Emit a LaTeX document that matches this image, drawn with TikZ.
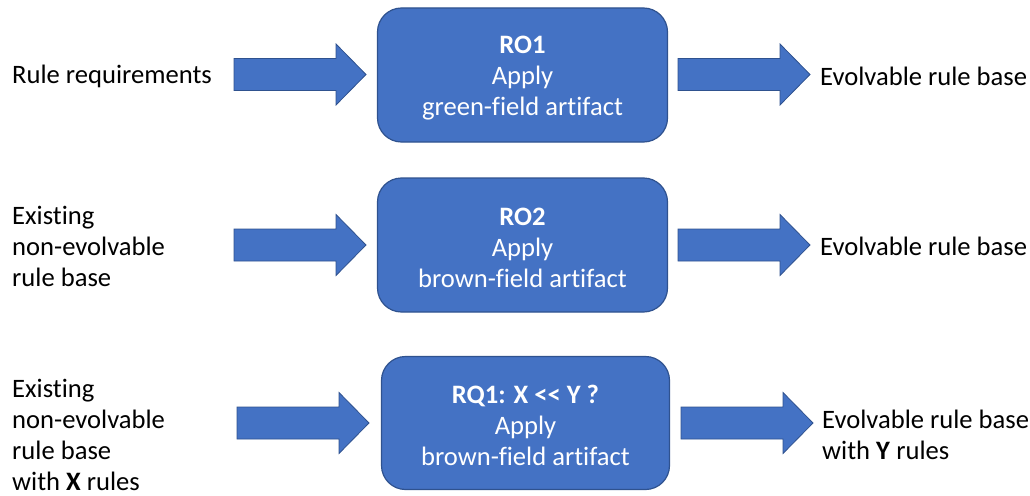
\documentclass[tikz,border=0pt]{standalone}
\usepackage{fontspec}
\setmainfont{Carlito}[Ligatures=NoCommon]
\definecolor{offblue}{HTML}{4472C4}
\definecolor{edgeblue}{HTML}{2F528F}
\begin{document}
\begin{tikzpicture}[x=1pt,y=-1pt,
  font=\fontsize{26.6}{31}\selectfont,
  box/.style={draw=edgeblue, line width=1.2pt, fill=offblue, rounded corners=24pt, inner sep=0pt},
  boxtext/.style={text=white, align=center, inner sep=0pt},
  lbl/.style={align=left, inner sep=0pt, anchor=west},
  arrowshape/.style={draw=edgeblue, line width=0.8pt, fill=offblue},
  blockarrow/.pic={\draw[arrowshape] (0,-16) -- (102,-16) -- (102,-30.5) -- (132,0) -- (102,30.5) -- (102,16) -- (0,16) -- cycle;}]
\useasboundingbox (0,0) rectangle (1030,495);
% boxes
\node[box, minimum width=290pt, minimum height=134pt] (b1) at (522.5,75) {};
\node[boxtext] (t1) at ([yshift=-3pt]b1.center) {\textbf{RO1}\\Apply\\green-field artifact};
\node[box, minimum width=290pt, minimum height=134pt] (b2) at (522.5,245) {};
\node[boxtext] (t2) at ([yshift=-3pt]b2.center) {\textbf{RO2}\\Apply\\brown-field artifact};
\node[box, minimum width=288pt, minimum height=133pt] (b3) at (525.5,423) {};
\node[boxtext] (t3) at ([yshift=-2pt]b3.center) {\textbf{RQ1: X {<}{<} Y ?}\\Apply\\brown-field artifact};
% block arrows
\pic at (234,74.5) {blockarrow};
\pic at (678,74.5) {blockarrow};
\pic at (234,245) {blockarrow};
\pic at (678,245) {blockarrow};
\pic at (237,423) {blockarrow};
\pic at (681,423) {blockarrow};
% labels
\node[lbl] (in1) at (12,76) {Rule requirements};
\node[lbl] (out1) at (820,76) {Evolvable rule base};
\node[lbl] (in2) at (12,246) {Existing\\non-evolvable\\rule base};
\node[lbl] (out2) at (820,246) {Evolvable rule base};
\node[lbl] (in3) at (12,434.5) {Existing\\non-evolvable\\rule base\\with \textbf{X} rules};
\node[lbl] (out3) at (822,435) {Evolvable rule base\\with \textbf{Y} rules};
\end{tikzpicture}
\end{document}
